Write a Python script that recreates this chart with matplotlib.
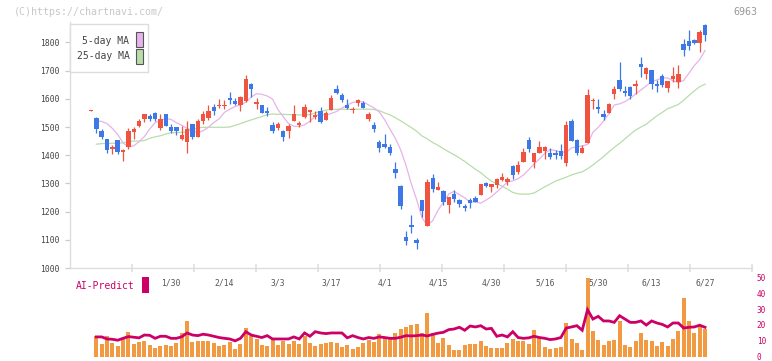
import numpy as np
import matplotlib
matplotlib.use("Agg")
import matplotlib.pyplot as plt
from matplotlib.patches import Rectangle
import matplotlib.transforms as mtrans

# ---------------- data ----------------
opens = [1558, 1531, 1486, 1457, 1422, 1454, 1412, 1429, 1482, 1504,
         1528, 1539, 1550, 1496, 1546, 1500, 1500, 1457, 1447, 1511,
         1465, 1521, 1532, 1571, 1574, 1575, 1603, 1592, 1578, 1592,
         1652, 1582, 1578, 1557, 1507, 1496, 1486, 1486, 1521, 1507,
         1535, 1553, 1535, 1557, 1525, 1560, 1635, 1613, 1578, 1561,
         1585, 1585, 1528, 1507, 1447, 1440, 1429, 1351, 1291, 1110,
         1152, 1099, 1241, 1149, 1319, 1277, 1273, 1223, 1262, 1241,
         1220, 1241, 1248, 1259, 1301, 1287, 1294, 1312, 1305, 1362,
         1340, 1376, 1454, 1376, 1408, 1415, 1408, 1408, 1415, 1372,
         1521, 1454, 1408, 1443, 1592, 1571, 1546, 1550, 1617, 1667,
         1628, 1642, 1645, 1723, 1688, 1702, 1652, 1681, 1638, 1670,
         1660, 1794, 1805, 1809, 1798, 1862]
highs = [1561, 1535, 1493, 1459, 1436, 1455, 1422, 1496, 1500, 1528,
         1547, 1546, 1552, 1546, 1547, 1511, 1501, 1504, 1521, 1512,
         1528, 1557, 1578, 1582, 1599, 1596, 1624, 1603, 1610, 1684,
         1656, 1603, 1579, 1571, 1518, 1518, 1489, 1511, 1578, 1521,
         1582, 1561, 1557, 1571, 1557, 1613, 1649, 1621, 1599, 1571,
         1599, 1592, 1553, 1518, 1454, 1475, 1440, 1376, 1294, 1131,
         1188, 1106, 1242, 1316, 1333, 1305, 1277, 1253, 1277, 1245,
         1227, 1248, 1255, 1299, 1305, 1298, 1319, 1337, 1323, 1365,
         1379, 1426, 1465, 1409, 1450, 1433, 1426, 1418, 1440, 1521,
         1528, 1457, 1436, 1635, 1603, 1599, 1560, 1585, 1645, 1730,
         1645, 1645, 1667, 1748, 1713, 1703, 1667, 1688, 1664, 1713,
         1720, 1812, 1844, 1812, 1844, 1865]
lows = [1557, 1480, 1457, 1409, 1405, 1405, 1379, 1422, 1457, 1500,
        1518, 1521, 1521, 1489, 1503, 1479, 1472, 1455, 1408, 1457,
        1464, 1511, 1525, 1543, 1567, 1564, 1582, 1578, 1557, 1589,
        1606, 1564, 1549, 1539, 1479, 1489, 1450, 1461, 1520, 1500,
        1532, 1518, 1528, 1514, 1524, 1559, 1617, 1589, 1564, 1550,
        1574, 1566, 1521, 1482, 1411, 1426, 1401, 1319, 1209, 1082,
        1124, 1067, 1181, 1148, 1270, 1276, 1223, 1195, 1234, 1216,
        1202, 1213, 1233, 1258, 1287, 1270, 1284, 1309, 1294, 1316,
        1333, 1375, 1411, 1355, 1407, 1387, 1387, 1387, 1387, 1362,
        1449, 1401, 1407, 1442, 1564, 1550, 1525, 1549, 1599, 1628,
        1610, 1599, 1617, 1677, 1670, 1635, 1624, 1642, 1624, 1660,
        1638, 1752, 1773, 1794, 1766, 1805]
closes = [1560, 1493, 1465, 1420, 1430, 1412, 1419, 1486, 1493, 1521,
          1546, 1528, 1528, 1528, 1504, 1486, 1486, 1472, 1493, 1465,
          1521, 1546, 1557, 1557, 1578, 1578, 1596, 1582, 1606, 1670,
          1635, 1589, 1550, 1550, 1486, 1511, 1465, 1504, 1546, 1514,
          1571, 1560, 1543, 1518, 1550, 1603, 1621, 1596, 1567, 1564,
          1596, 1567, 1546, 1493, 1426, 1429, 1408, 1337, 1220, 1096,
          1147, 1089, 1202, 1305, 1280, 1287, 1234, 1252, 1245, 1227,
          1213, 1231, 1234, 1298, 1291, 1298, 1316, 1323, 1316, 1330,
          1365, 1411, 1422, 1408, 1429, 1429, 1394, 1401, 1397, 1507,
          1450, 1408, 1426, 1613, 1596, 1564, 1535, 1582, 1635, 1635,
          1621, 1610, 1652, 1713, 1709, 1652, 1646, 1649, 1663, 1681,
          1688, 1773, 1787, 1798, 1837, 1826]

nan = float("nan")
ma5 = [nan, 1521, 1520, 1512, 1495, 1474, 1444, 1429, 1433, 1448,
       1466, 1493, 1515, 1523, 1530, 1527, 1515, 1506, 1495, 1488,
       1480, 1487, 1499, 1516, 1529, 1552, 1563, 1573, 1578, 1588,
       1606, 1618, 1616, 1610, 1599, 1562, 1537, 1512, 1503, 1502,
       1508, 1520, 1539, 1547, 1541, 1548, 1555, 1567, 1578, 1587,
       1590, 1589, 1578, 1568, 1553, 1526, 1492, 1460, 1419, 1364,
       1298, 1242, 1178, 1151, 1168, 1205, 1233, 1262, 1272, 1260,
       1249, 1234, 1234, 1230, 1241, 1253, 1270, 1287, 1305, 1309,
       1317, 1330, 1349, 1369, 1387, 1407, 1420, 1416, 1412, 1410,
       1426, 1430, 1433, 1438, 1481, 1499, 1521, 1547, 1578, 1582,
       1590, 1602, 1617, 1631, 1646, 1661, 1667, 1674, 1674, 1664,
       1658, 1665, 1691, 1718, 1739, 1771]
ma25 = [nan, 1439, 1441, 1442, 1442, 1442, 1444, 1448, 1450, 1450,
        1452, 1460, 1465, 1469, 1475, 1480, 1480, 1481, 1483, 1490,
        1497, 1499, 1499, 1499, 1499, 1499, 1500, 1506, 1512, 1519,
        1525, 1531, 1537, 1544, 1546, 1545, 1545, 1544, 1543, 1543,
        1543, 1544, 1550, 1555, 1560, 1562, 1563, 1563, 1563, 1563,
        1563, 1563, 1563, 1562, 1558, 1550, 1543, 1533, 1522, 1510,
        1498, 1485, 1468, 1458, 1445, 1435, 1423, 1412, 1402, 1390,
        1378, 1364, 1350, 1338, 1322, 1308, 1299, 1290, 1280, 1268,
        1263, 1262, 1262, 1266, 1277, 1288, 1298, 1308, 1315, 1322,
        1330, 1336, 1341, 1352, 1365, 1380, 1395, 1412, 1428, 1442,
        1458, 1474, 1489, 1500, 1510, 1525, 1540, 1552, 1565, 1572,
        1580, 1595, 1612, 1628, 1643, 1652]

# AI-Predict panel (starts at the 2nd session)
ai_bars = [13.2, 8.0, 12.8, 8.6, 6.5, 11.1, 15.7, 8.0, 9.4, 10.1,
           7.4, 5.5, 6.5, 7.4, 6.7, 8.6, 14.9, 22.5, 9.2, 9.9,
           10.1, 10.1, 8.6, 6.7, 7.5, 9.2, 4.8, 8.0, 18.0, 13.2,
           11.3, 7.4, 6.7, 11.1, 7.4, 10.1, 8.0, 10.1, 7.8, 13.0,
           8.8, 6.5, 8.0, 8.6, 9.2, 8.6, 6.1, 7.4, 4.8, 6.1,
           8.6, 10.3, 9.4, 14.3, 12.2, 11.0, 14.9, 17.4, 18.9, 20.2,
           20.6, 14.9, 27.5, 14.9, 8.6, 11.8, 7.4, 4.4, 3.8, 7.4,
           8.0, 8.0, 9.9, 6.5, 5.5, 5.5, 5.5, 8.6, 11.1, 10.1,
           10.1, 8.0, 16.8, 11.8, 6.1, 4.8, 5.5, 6.1, 21.2, 11.1,
           8.6, 4.4, 49.5, 16.4, 10.7, 7.4, 10.1, 10.5, 22.5, 7.4,
           6.1, 9.9, 14.9, 10.5, 9.9, 6.5, 9.2, 6.7, 11.1, 16.1,
           36.9, 22.5, 14.9, 19.3, 17.4]
ai_line = [12.4, 12.4, 11.1, 10.9, 10.3, 11.5, 12.6, 12.2, 11.8, 13.6,
           13.4, 11.5, 12.8, 12.8, 11.5, 11.5, 12.5, 14.9, 13.6, 13.2,
           14.1, 13.6, 12.8, 12.0, 11.5, 11.1, 9.9, 11.5, 15.7, 13.6,
           12.8, 12.0, 13.2, 11.1, 11.1, 11.1, 11.1, 12.4, 11.1, 14.9,
           12.8, 15.7, 14.9, 14.5, 14.9, 14.9, 14.9, 11.8, 13.2, 12.0,
           11.1, 12.0, 11.5, 12.4, 12.0, 11.5, 11.5, 12.2, 13.2, 13.0,
           13.2, 13.6, 13.0, 14.0, 14.8, 15.3, 17.0, 17.4, 18.5, 16.6,
           19.3, 18.7, 19.5, 17.4, 17.8, 12.8, 13.6, 12.4, 15.7, 12.0,
           11.5, 11.8, 12.8, 12.0, 11.5, 10.7, 11.1, 12.0, 18.0, 18.7,
           19.5, 16.6, 29.6, 23.7, 25.4, 22.5, 22.5, 21.6, 25.8, 23.7,
           21.6, 21.6, 22.5, 19.9, 22.5, 21.2, 20.3, 18.7, 21.2, 21.2,
           18.0, 18.5, 18.7, 19.8, 18.5]

date_labels = ["1/30", "2/14", "3/3", "3/17", "4/1", "4/15",
               "4/30", "5/16", "5/30", "6/13", "6/27"]
date_label_idx = [15, 25, 35, 45, 55, 65, 75, 85, 95, 105, 115]
price_ticks = [1000, 1100, 1200, 1300, 1400, 1500, 1600, 1700, 1800]
ai_ticks = [0, 10, 20, 30, 40, 50]

# ---------------- style ----------------
W, H = 772, 361
DPI = 100
MONO = "DejaVu Sans Mono"
RED = "#F05340"
BLUE = "#3D78E6"
PINK = "#E6B3EA"
GREEN = "#B9DDAA"
ORANGE = "#F29A41"
CRIMSON = "#CC0066"
AXIS = "#DDDDDD"

plt.rcParams["font.family"] = [MONO, "DejaVu Sans"]

fig = plt.figure(figsize=(W / DPI, H / DPI), dpi=DPI, facecolor="white")

def fx(px):
    return px / W

def fy(py):
    return (H - py) / H

x_lo, x_hi = -3.93, 123.8
idx = np.arange(len(closes))

# ---------------- main candlestick axes ----------------
top_px, bot_px = 22, 268
ax = fig.add_axes([fx(70), fy(bot_px), fx(752) - fx(70), fy(top_px) - fy(bot_px)])
ax.set_xlim(x_lo, x_hi)
ax.set_ylim(1000, 1000 + (bot_px - top_px) / 0.282)
ax.set_facecolor("white")

ax.plot(idx, ma25, color=GREEN, lw=0.9, zorder=2)
ax.plot(idx, ma5, color=PINK, lw=0.9, zorder=2)

o = np.array(opens, float)
h = np.array(highs, float)
l = np.array(lows, float)
c = np.array(closes, float)
cols = [RED if cc >= oo else BLUE for oo, cc in zip(o, c)]
ax.vlines(idx, l, h, colors=cols, lw=0.9, zorder=3)
body_lo = np.minimum(o, c)
body_h = np.maximum(np.abs(c - o), 3.5)
ax.bar(idx, body_h, bottom=body_lo, width=0.82, color=cols, lw=0, zorder=4)

for s in ["top", "right"]:
    ax.spines[s].set_visible(False)
for s in ["left", "bottom"]:
    ax.spines[s].set_color(AXIS)
    ax.spines[s].set_linewidth(1.0)

ax.set_yticks(price_ticks)
ax.set_yticklabels([str(v) for v in price_ticks])
ax.tick_params(axis="y", length=3.6, width=0.9, color="#CCCCCC", pad=4.0,
               labelsize=5.8, labelcolor="#444444")
div = np.linspace(x_lo, x_hi, 12)[1:]
ax.set_xticks(div)
ax.set_xticklabels([])
ax.tick_params(axis="x", direction="inout", length=6.0, width=1.1, color=AXIS)

trans = mtrans.blended_transform_factory(ax.transData, ax.transAxes)
lab_y = -(282.5 - bot_px) / (bot_px - top_px)
for i, t in zip(date_label_idx, date_labels):
    ax.text(i, lab_y, t, transform=trans, ha="center", va="center",
            fontsize=5.8, color="#555555", family=MONO)

# ---------------- AI-Predict axes ----------------
ax2 = fig.add_axes([fx(70), fy(356.5), fx(752) - fx(70), fy(277.5) - fy(356.5)])
ax2.set_xlim(x_lo, x_hi)
ax2.set_ylim(0, 50)
ax2.patch.set_alpha(0)
for s in ax2.spines.values():
    s.set_visible(False)
ax2.set_xticks([])
ax2.yaxis.tick_right()
ax2.set_yticks(ai_ticks)
ax2.set_yticklabels([str(v) for v in ai_ticks])
ax2.tick_params(axis="y", length=0, pad=3.4, labelsize=5.6, labelcolor=CRIMSON)
ai_idx = idx[1:]
ax2.bar(ai_idx, ai_bars, width=0.75, color=ORANGE, lw=0, zorder=2)
ax2.plot(ai_idx, ai_line, color=CRIMSON, lw=2.0, zorder=3,
         solid_joinstyle="miter")

# ---------------- overlay texts / legends ----------------
ov = fig.add_axes([0, 0, 1, 1])
ov.set_xlim(0, W)
ov.set_ylim(H, 0)
ov.axis("off")
ov.patch.set_alpha(0)

ov.text(14, 12, "(C)https://chartnavi.com/", ha="left", va="center",
        fontsize=7.2, color="#C8C8C8", family=MONO)
ov.text(757, 12, "6963", ha="right", va="center",
        fontsize=7.2, color="#999999", family=MONO)

ov.add_patch(Rectangle((70, 24), 78, 48, facecolor="white",
                       edgecolor=AXIS, lw=1.0, zorder=5))
ov.text(129.5, 41, "5-day MA", ha="right", va="center", fontsize=7.0,
        color="#444444", family=MONO, zorder=6)
ov.text(129.5, 56, "25-day MA", ha="right", va="center", fontsize=7.0,
        color="#444444", family=MONO, zorder=6)
ov.add_patch(Rectangle((136, 32), 6.5, 15, facecolor=PINK,
                       edgecolor="#555555", lw=0.8, zorder=6))
ov.add_patch(Rectangle((136, 49), 6.5, 15, facecolor=GREEN,
                       edgecolor="#555555", lw=0.8, zorder=6))

ov.text(76, 286, "AI-Predict", ha="left", va="center", fontsize=7.0,
        color=CRIMSON, family=MONO)
ov.add_patch(Rectangle((142, 277), 7, 16, facecolor=CRIMSON,
                       edgecolor="none", lw=0))

fig.savefig("out.png", dpi=DPI, facecolor="white")
